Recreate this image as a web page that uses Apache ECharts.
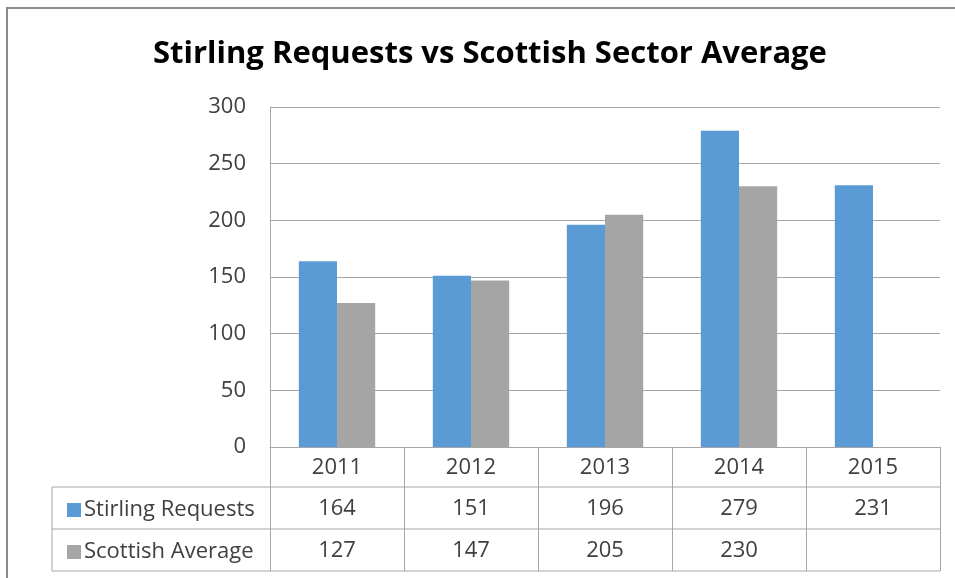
<!DOCTYPE html>
<html>
<head>
<meta charset="utf-8">
<script src="https://cdn.jsdelivr.net/npm/echarts@6/dist/echarts.min.js"></script>
<style>html,body{margin:0;padding:0;background:#fff}#c{width:955px;height:578px}</style>
</head>
<body>
<div id="c"></div>
<script>
var categories = ['2011', '2012', '2013', '2014', '2015'];
var stirlingRequests = [164, 151, 196, 279, 231];
var scottishAverage = [127, 147, 205, 230, null];
var seriesNames = ['Stirling Requests', 'Scottish Average'];
var yTicks = [0, 50, 100, 150, 200, 250, 300];

var FONT = '"Open Sans", "Liberation Sans", sans-serif';
var FS = 22;
var GRID_L = 270, GRID_R = 940, GRID_T = 107, GRID_B = 447;
var ROW_H = [40, 42, 42];
var TABLE_L = 52;
var lineColor = '#a6a6a6';

var chart = echarts.init(document.getElementById('c'), null, {renderer: 'canvas'});

function fmt(v) { return v == null ? '' : String(v); }

var rowY1 = GRID_B + ROW_H[0];
var rowY2 = rowY1 + ROW_H[1];
var rowY3 = rowY2 + ROW_H[2];

var option = {
  animation: false,
  backgroundColor: '#fff',
  title: {
    text: 'Stirling Requests vs Scottish Sector Average',
    left: 148,
    top: 34,
    textStyle: {fontFamily: FONT, fontSize: 31, fontWeight: 'bold', color: '#000'}
  },
  grid: {left: GRID_L, right: 955 - GRID_R, top: GRID_T, bottom: 578 - GRID_B, containLabel: false},
  legend: {
    orient: 'vertical',
    left: 62,
    top: rowY1 + 7,
    itemGap: 20,
    itemWidth: 14,
    itemHeight: 14,
    icon: 'rect',
    data: seriesNames,
    textStyle: {fontFamily: FONT, fontSize: FS, color: '#404040', lineHeight: 22, padding: [0, 0, 0, -2]}
  },
  xAxis: {
    type: 'category',
    data: categories,
    axisLine: {show: true, lineStyle: {color: lineColor, width: 1}},
    axisTick: {show: true, length: ROW_H[0] + ROW_H[1] + ROW_H[2], lineStyle: {color: lineColor, width: 1}},
    axisLabel: {
      margin: 1,
      interval: 0,
      formatter: function (v, i) {
        return '{y|' + v + '}\n{v|' + fmt(stirlingRequests[i]) + '}\n{v|' + fmt(scottishAverage[i]) + '}';
      },
      rich: {
        y: {fontFamily: FONT, fontSize: FS, color: '#404040', lineHeight: ROW_H[0], height: ROW_H[0], verticalAlign: 'middle'},
        v: {fontFamily: FONT, fontSize: FS, color: '#404040', lineHeight: ROW_H[1], height: ROW_H[1], verticalAlign: 'middle'}
      }
    }
  },
  yAxis: {
    type: 'value',
    min: yTicks[0],
    max: yTicks[yTicks.length - 1],
    interval: yTicks[1] - yTicks[0],
    axisLine: {show: true, lineStyle: {color: lineColor, width: 1}},
    axisTick: {show: false},
    axisLabel: {fontFamily: FONT, fontSize: FS, color: '#404040', margin: 24},
    splitLine: {show: true, lineStyle: {color: lineColor, width: 1}}
  },
  series: [
    {
      name: seriesNames[0],
      type: 'bar',
      data: stirlingRequests,
      barGap: '0%',
      barCategoryGap: '43%',
      itemStyle: {color: '#5b9bd5'}
    },
    {
      name: seriesNames[1],
      type: 'bar',
      data: scottishAverage,
      itemStyle: {color: '#a5a5a5'}
    }
  ],
  graphic: [
    {type: 'rect', shape: {x: 7, y: 8, width: 960, height: 590}, style: {fill: 'none', stroke: '#8c8c8c', lineWidth: 2}, silent: true},
    {type: 'line', shape: {x1: TABLE_L, y1: rowY1, x2: GRID_R, y2: rowY1}, style: {stroke: lineColor, lineWidth: 1}},
    {type: 'line', shape: {x1: TABLE_L, y1: rowY2, x2: GRID_R, y2: rowY2}, style: {stroke: lineColor, lineWidth: 1}},
    {type: 'line', shape: {x1: TABLE_L, y1: rowY3, x2: GRID_R, y2: rowY3}, style: {stroke: lineColor, lineWidth: 1}},
    {type: 'line', shape: {x1: TABLE_L, y1: rowY1, x2: TABLE_L, y2: rowY3}, style: {stroke: lineColor, lineWidth: 1}}
  ]
};
chart.setOption(option);
</script>
</body>
</html>
